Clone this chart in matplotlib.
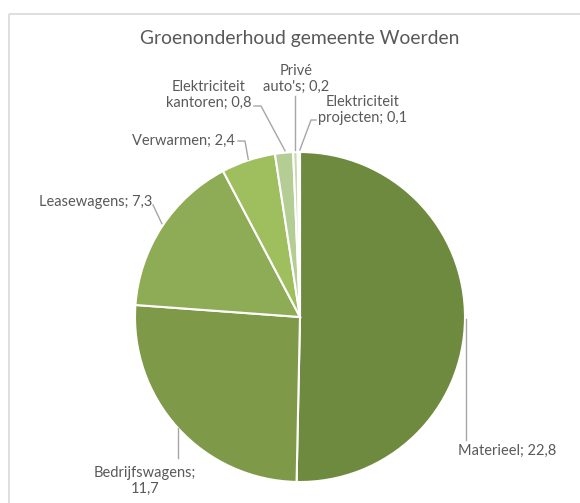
import numpy as np
import matplotlib.pyplot as plt
from matplotlib.patches import Rectangle

plt.rcParams['font.family'] = ['Lato', 'DejaVu Sans']

# Gegevens
labels = ['Materieel', 'Bedrijfswagens', 'Leasewagens', 'Verwarmen',
          'Elektriciteit kantoren', "Privé auto's", 'Elektriciteit projecten']
values = [22.8, 11.7, 7.3, 2.4, 0.8, 0.2, 0.1]
colors = ['#6e8a3e', '#7e9a49', '#8eac55', '#9fbf5e', '#b4cd94', '#c7dab0', '#d6e4c4']
label_text = ['Materieel; 22,8', 'Bedrijfswagens;\n11,7', 'Leasewagens; 7,3',
              'Verwarmen; 2,4', 'Elektriciteit\nkantoren; 0,8', "Privé\nauto's; 0,2",
              'Elektriciteit\nprojecten; 0,1']

W, H = 580, 503
fig = plt.figure(figsize=(W / 100, H / 100), dpi=100)
ax = fig.add_axes([0, 0, 1, 1])

# kader
ax.add_patch(Rectangle((8.5, 13.5), 600, 600, fill=False, ec='#d9d9d9', lw=1.2))

cx, cy, r = 300, 317, 165
# y-as loopt omlaag (pixels), dus startangle=-90 is boven en counterclock=True oogt rechtsom
wedges, _ = ax.pie(values, colors=colors, startangle=-90, counterclock=True,
                   center=(cx, cy), radius=r, frame=True,
                   wedgeprops=dict(edgecolor='white', linewidth=1.5))
ax.set_xlim(0, W)
ax.set_ylim(H, 0)
ax.axis('off')

ax.text(300, 38, 'Groenonderhoud gemeente Woerden', ha='center', va='center',
        fontsize=13.9, color='#595959')

txt = dict(fontsize=10.5, color='#595959', linespacing=1.15)
lc = '#a6a6a6'


def edge_point(w):
    ang = np.deg2rad((w.theta1 + w.theta2) / 2)
    return cx + r * np.cos(ang), cy + r * np.sin(ang)


# label posities
pos = [
    (458, 451, 'left'),
    (145, 481, 'center'),
    (152, 202, 'right'),
    (235, 141, 'right'),
    (251, 95, 'right'),
    (296, 79, 'center'),
    (318, 110, 'left'),
]
for i, (x, y, ha) in enumerate(pos):
    ax.text(x, y, label_text[i], ha=ha, va='center', multialignment='center', **txt)

ex, ey = [], []
for w in wedges:
    px, py = edge_point(w)
    ex.append(px)
    ey.append(py)

leaders = [
    [(ex[0] + 1, ey[0]), (ex[0] + 1, 440)],
    [(ex[1], ey[1]), (ex[1], 458)],
    [(153, 205), (ex[2], ey[2] - 3)],
    [(238, 141), (245, 141), (ex[3], ey[3] - 1)],
    [(254, 106), (261, 106), (ex[4] + 1, ey[4] - 2)],
    [(ex[5], 96), (ex[5], ey[5] - 2)],
    [(316, 120), (311, 120), (ex[6] + 1, ey[6] - 2)],
]
for pts in leaders:
    xs, ys = zip(*pts)
    ax.plot(xs, ys, color=lc, lw=1)

fig.savefig('out.png', dpi=100)
